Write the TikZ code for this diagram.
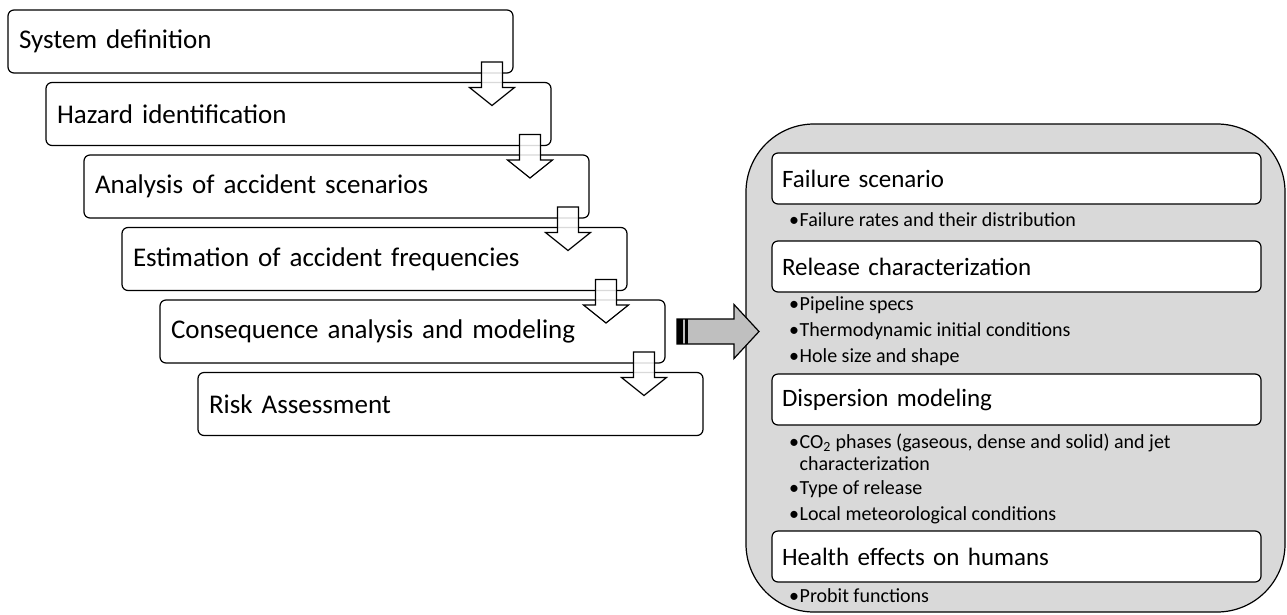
\documentclass[tikz,border=0pt]{standalone}
\usepackage{fontspec}
\setmainfont{Carlito}
\usetikzlibrary{positioning,calc}
\definecolor{panelgray}{RGB}{217,217,217}
\definecolor{arrowgray}{RGB}{191,191,191}
\tikzset{
  stepbox/.style={draw, line width=1.2pt, rounded corners=6pt, fill=white, anchor=north west,
    outer sep=0pt, minimum width=505pt, minimum height=63pt, text width=483pt, inner xsep=11pt,
    align=left, font=\fontsize{27}{31}\selectfont},
  subbox/.style={draw, line width=1.2pt, rounded corners=6pt, fill=white, anchor=north west,
    outer sep=0pt, minimum width=489pt, minimum height=51pt, text width=469pt, inner xsep=10pt,
    align=left, font=\fontsize{25}{29}\selectfont},
  itemtext/.style={anchor=west, inner sep=0pt, align=left, font=\fontsize{20}{22}\selectfont},
  hollowarrow/.style={draw, line width=1.2pt, fill=white, fill opacity=0.85, line join=miter},
  grayarrow/.style={draw, line width=1.2pt, fill=arrowgray, line join=miter},
}
\newcommand{\stepdown}[2]{%
  \draw[hollowarrow] let \p1=(#1.south east), \p2=(#2.north) in
    (\x1-31.5pt,\y1+11pt) -- (\x1-10.5pt,\y1+11pt) -- (\x1-10.5pt,\y2-5pt) -- (\x1+1.5pt,\y2-5pt)
    -- (\x1-21pt,\y2-23pt) -- (\x1-43.5pt,\y2-5pt) -- (\x1-31.5pt,\y2-5pt) -- cycle;}
\newcommand{\bul}{\textbullet\hspace{0.5pt}}
\begin{document}
\begin{tikzpicture}[x=1pt,y=-1pt]
\useasboundingbox (0,0) rectangle (1287,614);

% steps of the assessment
\node[stepbox] (sys) at (8,10) {System definition};
\node[stepbox] (haz) at (46,82.5) {Hazard identification};
\node[stepbox] (ana) at (84,155) {Analysis of accident scenarios};
\node[stepbox] (est) at (122,227.5) {Estimation of accident frequencies};
\node[stepbox] (cons) at (160,300) {Consequence analysis and modeling};
\node[stepbox] (risk) at (198,372.5) {Risk Assessment};

\stepdown{sys}{haz}
\stepdown{haz}{ana}
\stepdown{ana}{est}
\stepdown{est}{cons}
\stepdown{cons}{risk}

% consequence modeling details
\node[draw, line width=1.2pt, fill=panelgray, rounded corners=68pt, anchor=north west, outer sep=0pt,
  minimum width=539pt, minimum height=488pt] (panel) at (746,124) {};

\node[subbox] (fail) at (772,153) {Failure scenario};
\node[itemtext] (fr1) at (789,220) {\bul Failure rates and their distribution};
\node[subbox] (rel) at (772,241) {Release characterization};
\node[itemtext] (rc1) at (789,305) {\bul Pipeline specs};
\node[itemtext] (rc2) at (789,331) {\bul Thermodynamic initial conditions};
\node[itemtext] (rc3) at (789,357) {\bul Hole size and shape};
\node[subbox] (disp) at (772,374) {Dispersion modeling};
\node[itemtext] (dm1) at (789,452) {\bul CO\textsubscript{2} phases (gaseous, dense and solid) and jet\\\phantom{\bul}characterization};
\node[itemtext] (dm2) at (789,489) {\bul Type of release};
\node[itemtext] (dm3) at (789,515) {\bul Local meteorological conditions};
\node[subbox] (hlth) at (772,531) {Health effects on humans};
\node[itemtext] (he1) at (789,596) {\bul Probit functions};

% link to the details
\draw[grayarrow] let \p1=(cons.east), \p2=(panel.west) in
  (\x1+12pt,\y1+12.5pt) -- (\x1+69pt,\y1+12.5pt) -- (\x1+69pt,\y1+27pt) -- (\x2+13pt,\y1)
  -- (\x1+69pt,\y1-27pt) -- (\x1+69pt,\y1-12.5pt) -- (\x1+12pt,\y1-12.5pt) -- cycle;
\fill let \p1=(cons.east) in (\x1+12pt,\y1+12.5pt) rectangle (\x1+18pt,\y1-12.5pt);
\fill let \p1=(cons.east) in (\x1+20pt,\y1+12.5pt) rectangle (\x1+22.5pt,\y1-12.5pt);
\end{tikzpicture}
\end{document}
